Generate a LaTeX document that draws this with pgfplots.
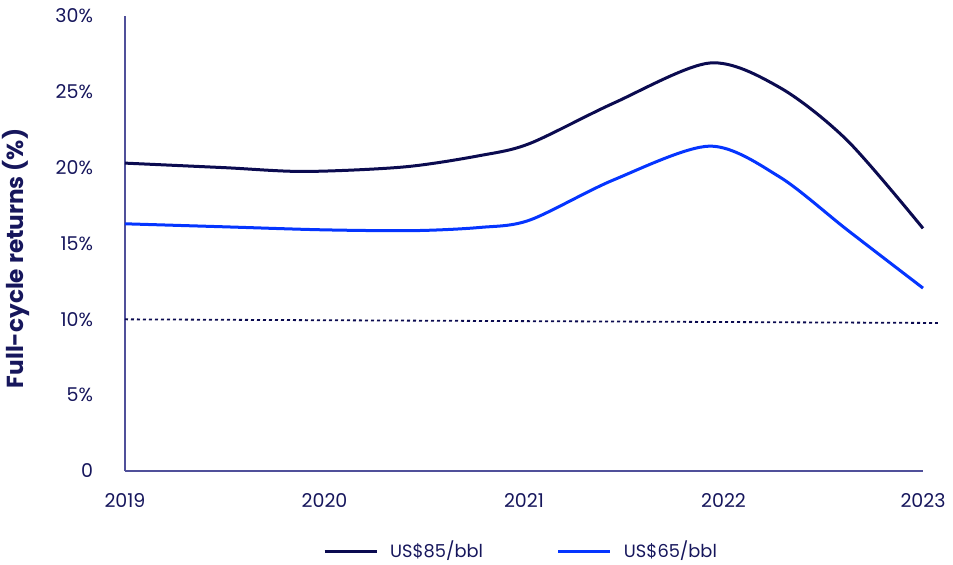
\documentclass[border=0pt]{standalone}
\usepackage{pgfplots}
\pgfplotsset{compat=1.18}
\usepackage{fontspec}
\setmainfont{Poppins}
\definecolor{txt}{HTML}{16165C}
\definecolor{navy}{HTML}{0B0B50}
\definecolor{bblue}{HTML}{0535FF}
\definecolor{axc}{HTML}{50509A}
\begin{document}
\begin{tikzpicture}
\useasboundingbox (-62.5pt,-46.5pt) rectangle (414pt,235.5pt);
\begin{axis}[
  scale only axis, width=399pt, height=227.5pt,
  xmin=2019, xmax=2023, ymin=0, ymax=30,
  axis lines=left, axis line style={axc, line width=0.6pt, -},
  clip=false,
  xtick={2019,2020,2021,2022,2023},
  ytick={0,5,10,15,20,25,30},
  yticklabels={0,5\%,10\%,15\%,20\%,25\%,30\%},
  major tick length=0pt,
  /pgf/number format/assume math mode=true,
  xticklabel style={/pgf/number format/1000 sep=, font=\fontsize{9.5}{11}\selectfont, text=txt},
  yticklabel style={font=\fontsize{9.5}{11}\selectfont, text=txt},
  yticklabel style={xshift=-12.5pt},
  xticklabel style={yshift=-7.5pt},
  ylabel={Full-cycle returns (\%)},
  ylabel style={font=\fontsize{11.6}{13}\selectfont\bfseries, text=txt, yshift=6pt, xshift=-7.5pt},
  legend style={draw=none, fill=none, at={(0.4975,-0.176)}, anchor=center, legend columns=2,
    font=\fontsize{8.9}{11}\selectfont, text=txt, inner sep=0pt,
    /tikz/every even column/.append style={column sep=35pt},
    /tikz/every odd column/.append style={column sep=4pt}},
  legend cell align=left,
  legend image code/.code={\draw[#1, line width=1.5pt] (0pt,0pt) -- (26pt,0pt);},
]
\addplot[navy, line width=1.5pt, smooth, tension=0.5] coordinates {
(2019,20.3) (2019.5,20.0) (2019.9,19.75) (2020.4,20.05) (2020.78,20.8) (2021.03,21.6) (2021.45,24.26) (2021.93,26.9) (2022.28,25.3) (2022.62,21.8) (2023,16.0)};
\addlegendentry{US\$85/bbl}
\addplot[bblue, line width=1.5pt, smooth, tension=0.5] coordinates {
(2019,16.3) (2019.5,16.1) (2020,15.9) (2020.45,15.85) (2020.78,16.06) (2021.03,16.55) (2021.45,19.2) (2021.93,21.42) (2022.28,19.4) (2022.62,15.9) (2023,12.06)};
\addlegendentry{US\$65/bbl}
\addplot[navy, line width=0.9pt, dash pattern=on 1.5pt off 1.5pt, forget plot] coordinates {(2019,10.0) (2023.075,9.76)};
\end{axis}
\end{tikzpicture}
\end{document}
